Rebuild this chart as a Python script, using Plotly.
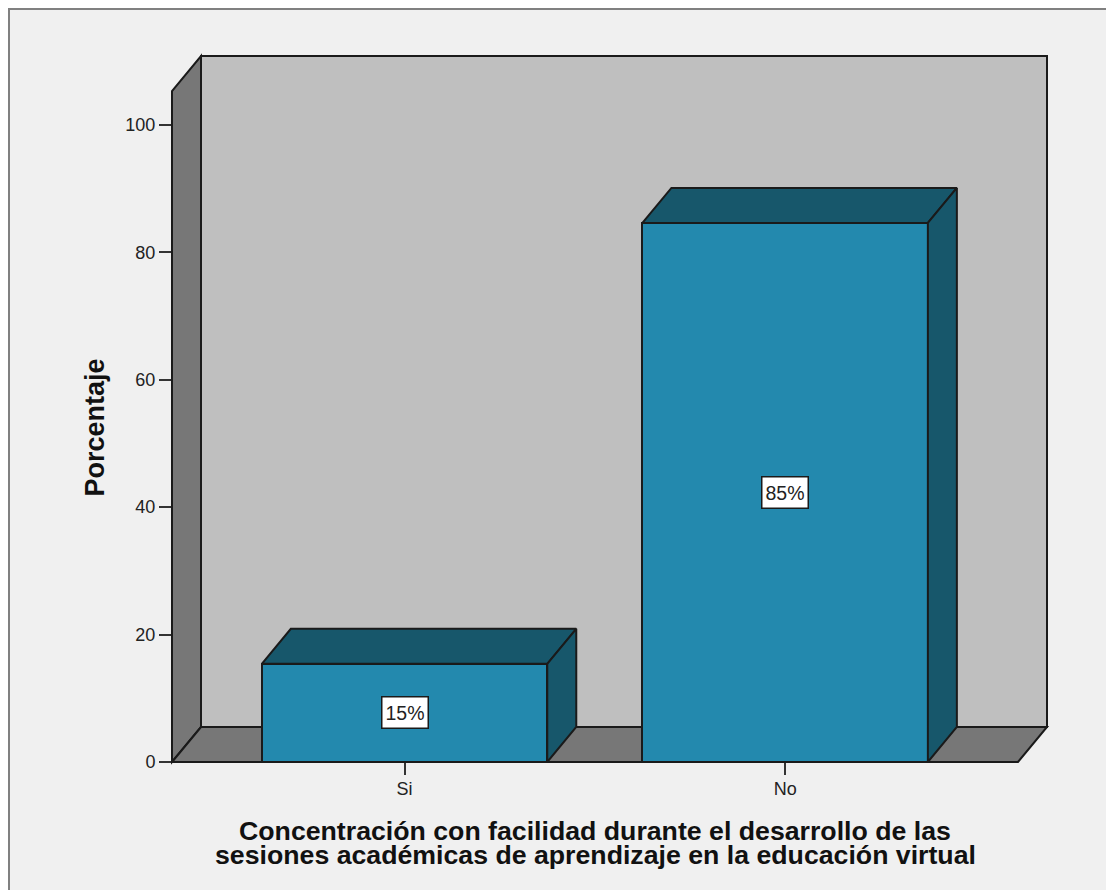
import plotly.graph_objects as go

categories = ["Si", "No"]
percentages = [15.4, 84.6]
bar_labels = ["15%", "85%"]
y_ticks = [0, 20, 40, 60, 80, 100]
x_title_lines = [
    "Concentración con facilidad durante el desarrollo de las",
    "sesiones académicas de aprendizaje en la educación virtual",
]
y_title = "Porcentaje"

W, H = 1106, 890
L, R, T, B = 172, 1047, 56, 762   # plot area in page pixels
X_LO, X_HI = -0.611, 1.688
Y_TOP = 110.8
BAR_W = 0.75
DXF, DYF = 29 / (R - L), 35 / (B - T)   # depth as fraction of the plot area
DX, DY = DXF * (X_HI - X_LO), DYF * Y_TOP

BAR, BAR_DARK = "#2389ae", "#17576b"
WALL, SIDE, PAPER = "#bfbfbf", "#777777", "#f0f0f0"
EDGE = "#1a1a1a"
FONT = "Liberation Sans"


def px(x):
    return (x - L) / (R - L)


def py(y):
    return (B - y) / (B - T)


def poly(points):
    return "M" + " L".join(f"{a},{b}" for a, b in points) + " Z"


fig = go.Figure()
xs = list(range(len(categories)))

fig.add_trace(go.Bar(
    x=xs, y=percentages, width=BAR_W, cliponaxis=False,
    marker=dict(color=BAR, line=dict(color=EDGE, width=2)),
    hoverinfo="skip", showlegend=False,
))

for x, v in zip(xs, percentages):
    x0, x1 = x - BAR_W / 2, x + BAR_W / 2
    top = ([x0, x0 + DX, x1 + DX, x1, x0], [v, v + DY, v + DY, v, v])
    side = ([x1, x1 + DX, x1 + DX, x1, x1], [v, v + DY, DY, 0, v])
    for fx, fy in (top, side):
        fig.add_trace(go.Scatter(
            x=fx, y=fy, mode="lines", fill="toself", fillcolor=BAR_DARK,
            line=dict(color=EDGE, width=2), cliponaxis=False,
            hoverinfo="skip", showlegend=False,
        ))

shapes = [
    dict(type="rect", xref="paper", yref="paper", layer="below",
         x0=px(9), x1=px(W + 10), y0=py(H + 10), y1=py(9),
         fillcolor=PAPER, line=dict(color="#808080", width=2)),
    # back wall
    dict(type="path", xref="paper", yref="paper", layer="below",
         path=poly([(DXF, DYF), (DXF, 1), (1, 1), (1, DYF)]),
         fillcolor=WALL, line=dict(color=EDGE, width=2)),
    # left wall
    dict(type="path", xref="paper", yref="paper", layer="below",
         path=poly([(0, 0), (0, 1 - DYF), (DXF, 1), (DXF, DYF)]),
         fillcolor=SIDE, line=dict(color=EDGE, width=2)),
    # floor
    dict(type="path", xref="paper", yref="paper", layer="below",
         path=poly([(0, 0), (DXF, DYF), (1, DYF), (1 - DXF, 0)]),
         fillcolor=SIDE, line=dict(color=EDGE, width=2)),
]

annotations = [
    dict(x=x, y=v / 2, xref="x", yref="y", text=t, showarrow=False,
         bgcolor="white", bordercolor=EDGE, borderwidth=1.5,
         width=43, height=28, font=dict(family=FONT, size=19.5, color="#222"))
    for x, v, t in zip(xs, percentages, bar_labels)
]
for line, y in zip(x_title_lines, (831, 855)):
    annotations.append(dict(
        x=px(595), y=py(y), xref="paper", yref="paper", text=line,
        showarrow=False, yanchor="middle", xanchor="center",
        font=dict(family=FONT, size=26.7, color="#111", weight="bold"),
    ))
annotations.append(dict(
    x=px(95), y=py(427.5), xref="paper", yref="paper", text=y_title,
    showarrow=False, textangle=-90, xanchor="center", yanchor="middle",
    font=dict(family=FONT, size=27, color="#111", weight="bold"),
))

fig.update_layout(
    width=W, height=H, autosize=False,
    margin=dict(l=L, r=W - R, t=T, b=H - B, pad=0),
    paper_bgcolor="white", plot_bgcolor="rgba(0,0,0,0)",
    shapes=shapes, annotations=annotations, bargap=0,
    font=dict(family=FONT, size=18, color="#222"),
    xaxis=dict(
        range=[X_LO, X_HI], tickmode="array", tickvals=xs, ticktext=categories,
        ticks="outside", ticklen=12, tickwidth=2, tickcolor="#333",
        ticklabelstandoff=-2,
        showgrid=False, zeroline=False, showline=False,
    ),
    yaxis=dict(
        range=[0, Y_TOP], tickmode="array", tickvals=y_ticks,
        ticks="outside", ticklen=12, tickwidth=2, tickcolor="#333",
        showgrid=False, zeroline=False, showline=False,
    ),
)

fig.write_html(
    "out.html",
    config=dict(displayModeBar=False),
    post_script="document.body.style.margin='0';document.body.style.overflow='hidden';",
)
